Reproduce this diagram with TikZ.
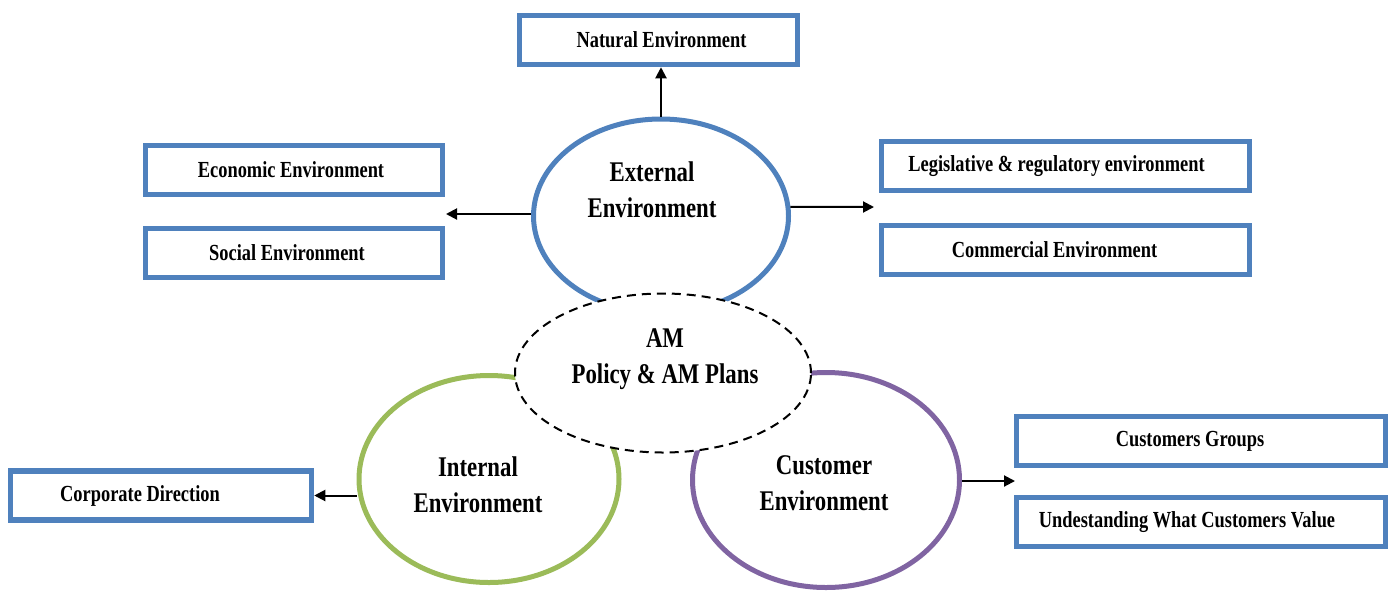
\documentclass[tikz,border=0pt]{standalone}
\usepackage{fontspec}
\setmainfont{Liberation Serif}[FakeStretch=0.8]
\usetikzlibrary{shapes.geometric,arrows.meta}
\definecolor{envblue}{HTML}{4F81BD}
\definecolor{envgreen}{HTML}{9BBB59}
\definecolor{envpurple}{HTML}{8064A2}
\newcommand{\nudge}[1]{\hspace*{#1}}
\tikzset{
  envbox/.style={draw=envblue, line width=5.5pt, fill=white, minimum width=297pt,
    minimum height=49pt, inner sep=0pt, font=\bfseries\fontsize{23}{25}\selectfont},
  envring/.style={ellipse, line width=5pt, inner sep=0pt},
  ringtext/.style={font=\bfseries\fontsize{28.5}{36}\selectfont, align=center},
  outarrow/.style={-{Triangle[length=11pt,width=11pt]}, line width=2pt},
}
\begin{document}
\begin{tikzpicture}[x=1pt,y=-1pt]
\useasboundingbox (0,0) rectangle (1389,590);
% the three environment rings
\node[envring, draw=envblue, minimum width=255pt, minimum height=194pt] (ext) at (661,216) {};
\node[envring, draw=envgreen, minimum width=260pt, minimum height=207pt] (int) at (489,479) {};
\node[envring, draw=envpurple, minimum width=267pt, minimum height=215pt] (cus) at (826,480) {};
% AM policy in the middle, covering the inner arcs
\node[envring, line width=2pt, dashed, dash pattern=on 9pt off 6pt, draw=black, fill=white,
  minimum width=296pt, minimum height=159pt] (am) at (663,373) {};
\node[ringtext] (amtext) at (665,359) {AM\\Policy \& AM Plans};
\node[ringtext] (exttext) at (652,190) {External\\Environment};
\node[ringtext] (inttext) at (478,485) {Internal\\Environment};
\node[ringtext] (custext) at (824,483) {Customer\\Environment};
% surrounding boxes (text set a little off-centre, as laid out)
\node[envbox, minimum width=278pt] (nat) at (658.5,40) {\nudge{6pt}Natural Environment};
\node[envbox] (eco) at (294,170) {\nudge{-6pt}Economic Environment};
\node[envbox] (soc) at (294,253) {\nudge{-14pt}Social Environment};
\node[envbox, minimum width=368pt] (leg) at (1065.5,166) {\nudge{-18pt}Legislative \& regulatory environment};
\node[envbox, minimum width=368pt] (com) at (1065.5,250) {\nudge{-22pt}Commercial Environment};
\node[envbox, minimum width=369pt] (grp) at (1201,441) {\nudge{-22pt}Customers Groups};
\node[envbox, minimum width=369pt] (val) at (1201,522) {\nudge{-28pt}Undestanding What Customers Value};
\node[envbox, minimum width=301pt] (cor) at (161,495.5) {\nudge{-42pt}Corporate Direction};
% free arrow ends between paired boxes
\coordinate (left) at (446,214);
\coordinate (right) at (874,207);
\coordinate (cusright) at (1015,481);
% arrows out of the rings
\draw[outarrow] (ext.north) -- (ext.north |- nat.south);
\draw[outarrow] (ext.west |- left) -- (left);
\draw[outarrow] (ext.4) -- (right);
\draw[outarrow] (int.west |- cor) -- (cor.east);
\draw[outarrow] (cus.east |- cusright) -- (cusright);
\end{tikzpicture}
\end{document}
